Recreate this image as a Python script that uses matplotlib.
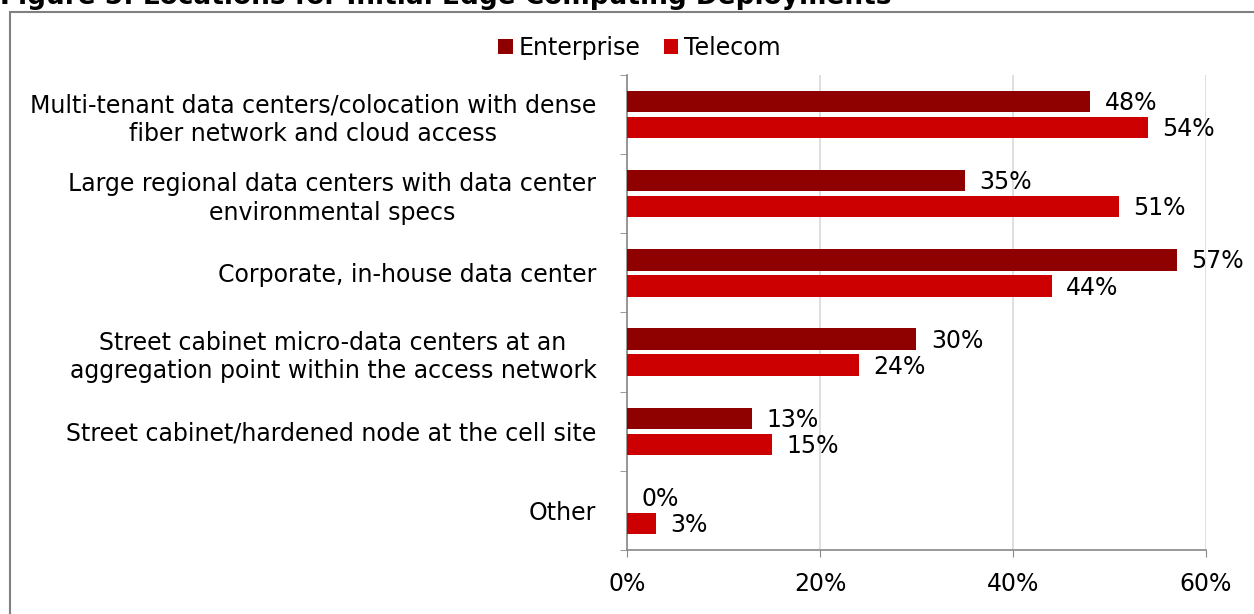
import matplotlib.pyplot as plt
from matplotlib.patches import Rectangle

# Survey results: share of respondents per deployment location
categories = [
    "Multi-tenant data centers/colocation with dense\nfiber network and cloud access",
    "Large regional data centers with data center\nenvironmental specs",
    "Corporate, in-house data center",
    "Street cabinet micro-data centers at an\naggregation point within the access network",
    "Street cabinet/hardened node at the cell site",
    "Other",
]
enterprise = [48, 35, 57, 30, 13, 0]
telecom = [54, 51, 44, 24, 15, 3]
x_ticks = [0, 20, 40, 60]

FS = 17

plt.rcParams['font.family'] = ['DejaVu Sans']
fig = plt.figure(figsize=(12.54, 6.14), dpi=100)
ax = fig.add_axes([0.5, 0.1042, 0.4617, 0.7737])

bar_h = 0.27
gap = 0.06
n = len(categories)
ypos = list(range(n))
y_ent = [y - (bar_h + gap) / 2 for y in ypos]
y_tel = [y + (bar_h + gap) / 2 for y in ypos]

b1 = ax.barh(y_ent, enterprise, height=bar_h, color='#8f0000', label='Enterprise', zorder=3)
b2 = ax.barh(y_tel, telecom, height=bar_h, color='#cc0000', label='Telecom', zorder=3)

for y, v in zip(y_ent, enterprise):
    ax.text(v + 1.5, y + 0.02, f"{v}%", va='center', ha='left', fontsize=FS)
for y, v in zip(y_tel, telecom):
    ax.text(v + 1.5, y + 0.02, f"{v}%", va='center', ha='left', fontsize=FS)

ax.set_ylim(n - 0.5, -0.5)
ax.set_xlim(0, 60)
ax.set_xticks(x_ticks)
ax.set_xticklabels([f"{t}%" for t in x_ticks], fontsize=FS)
ax.set_yticks(ypos)
ax.set_yticklabels(categories, fontsize=FS, multialignment='center', linespacing=1.25)
ax.set_yticks([i - 0.5 for i in range(n + 1)], minor=True)
ax.tick_params(axis='y', which='major', length=0, pad=22)
ax.tick_params(axis='y', which='minor', length=5, color='#888888', direction='out')
ax.tick_params(axis='x', length=5, color='#888888', pad=11)

ax.grid(axis='x', color='#d9d9d9', linewidth=1.2, zorder=0)
for side in ['top', 'right']:
    ax.spines[side].set_visible(False)
for side in ['left', 'bottom']:
    ax.spines[side].set_color('#888888')
    ax.spines[side].set_linewidth(1.2)

fig.legend(handles=[b1, b2], loc='center', bbox_to_anchor=(0.51, 1 - 48 / 614),
           ncol=2, frameon=False, fontsize=FS, handlelength=0.6, handleheight=0.6,
           handletextpad=0.25, columnspacing=1.0)

# frame around the chart area
fig.patches.append(Rectangle((10 / 1254, -0.1), 1.2, 1 - 12 / 614 + 0.1,
                             transform=fig.transFigure, fill=False,
                             edgecolor='#808080', linewidth=1.5))

fig.text(0.0, 1 - 4 / 614, "Figure 5: Locations for Initial Edge Computing Deployments",
         fontsize=19, fontweight='bold', ha='left', va='baseline')

fig.savefig('out.png', dpi=100)
